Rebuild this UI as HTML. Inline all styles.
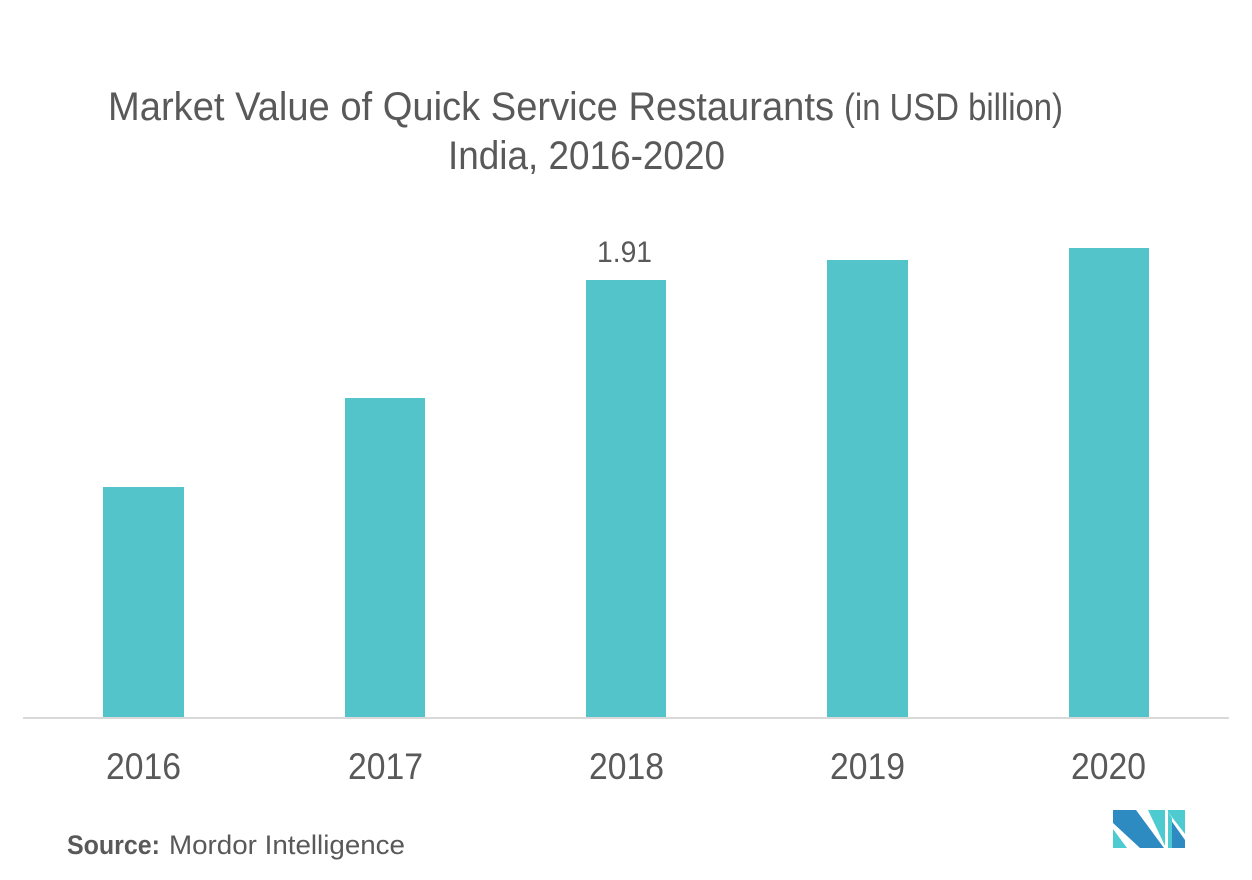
<!DOCTYPE html>
<html>
<head>
<meta charset="utf-8">
<style>
  html, body { margin:0; padding:0; background:#ffffff; }
  svg { display:block; }
  text { font-family: "Liberation Sans", "DejaVu Sans", sans-serif; fill:#595959; }
</style>
</head>
<body>
<svg width="1252" height="880" viewBox="0 0 1252 880" xmlns="http://www.w3.org/2000/svg">
  <rect width="1252" height="880" fill="#ffffff"/>
  <!-- Title -->
  <text x="108" y="120" font-size="40" textLength="726" lengthAdjust="spacingAndGlyphs">Market Value of Quick Service Restaurants</text>
  <text x="844" y="120" font-size="38" textLength="219" lengthAdjust="spacingAndGlyphs">(in USD billion)</text>
  <text x="448" y="169" font-size="40" textLength="277" lengthAdjust="spacingAndGlyphs">India, 2016-2020</text>

  <!-- Bars -->
  <g fill="#52c4ca">
    <rect x="103" y="487" width="81" height="231"/>
    <rect x="345" y="398" width="80" height="320"/>
    <rect x="586" y="280" width="80" height="438"/>
    <rect x="827" y="260" width="81" height="458"/>
    <rect x="1069" y="248" width="80" height="470"/>
  </g>

  <!-- Axis -->
  <rect x="23" y="717" width="1206" height="2" fill="#d9d9d9"/>

  <!-- Value label -->
  <text x="597" y="262" font-size="30" textLength="55" lengthAdjust="spacingAndGlyphs">1.91</text>

  <!-- Year labels -->
  <g font-size="37">
    <text x="106" y="779" textLength="75" lengthAdjust="spacingAndGlyphs">2016</text>
    <text x="348" y="779" textLength="75" lengthAdjust="spacingAndGlyphs">2017</text>
    <text x="589" y="779" textLength="75" lengthAdjust="spacingAndGlyphs">2018</text>
    <text x="830" y="779" textLength="75" lengthAdjust="spacingAndGlyphs">2019</text>
    <text x="1071" y="779" textLength="75" lengthAdjust="spacingAndGlyphs">2020</text>
  </g>

  <!-- Source -->
  <text x="67" y="854" font-size="27" font-weight="bold" textLength="93" lengthAdjust="spacingAndGlyphs">Source:</text>
  <text x="169" y="854" font-size="27" textLength="236" lengthAdjust="spacingAndGlyphs">Mordor Intelligence</text>

  <!-- Logo -->
  <g>
    <polygon points="1113,810 1136,810 1164,848 1140,848 1113,823" fill="#2e8bc2"/>
    <polygon points="1113,829 1113,848 1127,848" fill="#4ecbd0"/>
    <polygon points="1148,810 1165,810 1165,846" fill="#4ecbd0"/>
    <polygon points="1168,810 1185,810 1185,834 1168,812" fill="#4ecbd0"/>
    <polygon points="1168,816 1185,840 1185,848 1168,848" fill="#2e8bc2"/>
    <polygon points="1168,812 1172,818 1172,848 1168,848" fill="#4ecbd0"/>
  </g>
</svg>
</body>
</html>
